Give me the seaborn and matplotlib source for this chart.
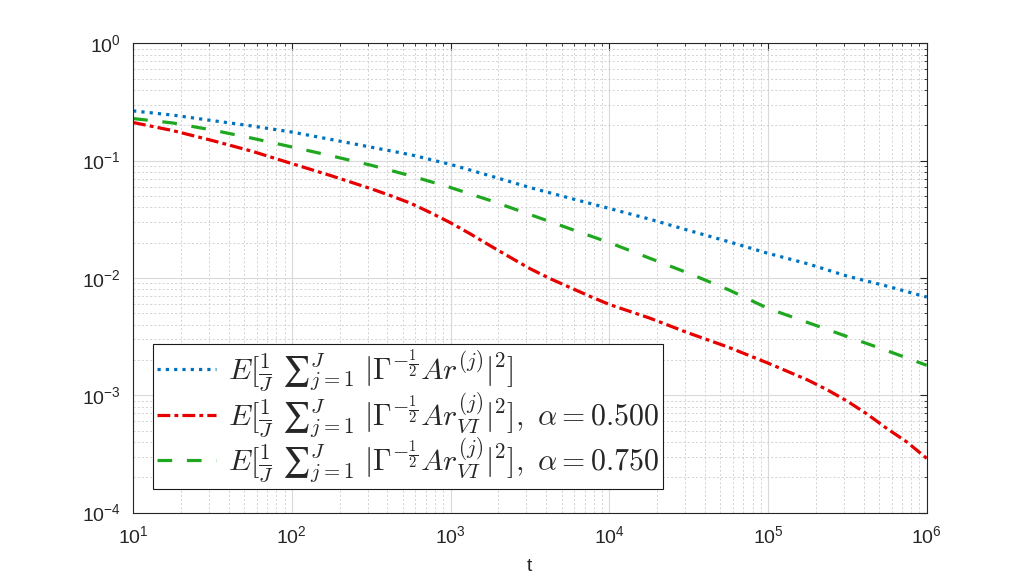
import numpy as np
import pandas as pd
import matplotlib
matplotlib.use("Agg")
import matplotlib.pyplot as plt
import matplotlib.ticker as mticker
import seaborn as sns

# ---- data ----
t_common = [1e1, 10**1.25, 10**1.5, 10**1.75, 1e2, 10**2.25, 10**2.5, 10**2.75,
            1e3, 10**3.25, 10**3.5, 10**3.75, 1e4, 10**4.25, 10**4.5, 10**4.75,
            1e5, 10**5.25, 10**5.5, 10**5.75, 1e6]
err_plain = [0.265, 0.244, 0.219, 0.197, 0.175, 0.151, 0.130, 0.112,
             0.0927, 0.0741, 0.0589, 0.0479, 0.0391, 0.0318, 0.0254, 0.0204,
             0.0162, 0.0132, 0.01035, 0.00851, 0.00687]
err_vi_075 = [0.228, 0.209, 0.182, 0.155, 0.1306, 0.1096, 0.0912, 0.0741,
              0.0589, 0.0457, 0.0347, 0.0263, 0.0200, 0.0148, 0.01096, 0.00794,
              0.0055, 0.00417, 0.00316, 0.0024, 0.0018]
t_vi_050 = [1e1, 10**1.25, 10**1.5, 10**1.75, 1e2, 10**2.25, 10**2.5, 10**2.625,
            10**2.75, 10**2.875, 1e3, 10**3.125, 10**3.25, 10**3.375, 10**3.5,
            10**3.625, 10**3.75, 10**3.875, 1e4, 10**4.25, 10**4.5, 10**4.75,
            1e5, 10**5.25, 10**5.375, 10**5.5, 10**5.625, 10**5.75, 10**5.875, 1e6]
err_vi_050 = [0.211, 0.180, 0.148, 0.120, 0.0942, 0.0741, 0.0575, 0.0501,
              0.0432, 0.0359, 0.0295, 0.0237, 0.0188, 0.0150, 0.0120,
              0.00989, 0.00832, 0.0070, 0.00594, 0.00457, 0.00339, 0.00257,
              0.00188, 0.00135, 0.00111, 0.00089, 0.00069, 0.00052, 0.00040, 0.00029]

labels = [
    r"$E[\frac{1}{J}\ ∑_{j=1}^{J}\ |\Gamma^{-\frac{1}{2}}Ar^{(j)}|^2]$",
    r"$E[\frac{1}{J}\ ∑_{j=1}^{J}\ |\Gamma^{-\frac{1}{2}}Ar_{VI}^{(j)}|^2],\ \alpha=0.500$",
    r"$E[\frac{1}{J}\ ∑_{j=1}^{J}\ |\Gamma^{-\frac{1}{2}}Ar_{VI}^{(j)}|^2],\ \alpha=0.750$",
]
x_ticks = [1e1, 1e2, 1e3, 1e4, 1e5, 1e6]
y_ticks = [1e-4, 1e-3, 1e-2, 1e-1, 1e0]

# ---- style ----
sns.set_style("white")
plt.rcParams["font.family"] = ["Liberation Sans", "DejaVu Sans"]
plt.rcParams["mathtext.fontset"] = "custom"
plt.rcParams["mathtext.rm"] = "Liberation Sans"
plt.rcParams["mathtext.it"] = "Liberation Sans:italic"
plt.rcParams["mathtext.bf"] = "Liberation Sans:bold"
plt.rcParams["axes.unicode_minus"] = False

fig = plt.figure(figsize=(10.24, 5.76), dpi=100)
ax = fig.add_axes([0.13, 0.11, 0.775, 0.815])

lw = 2.3
series = [
    (t_common, err_plain, "#0072BD", (0, (1.0, 1.6))),
    (t_vi_050, err_vi_050, "#E60000", (0, (4.0, 1.3, 1.2, 1.3))),
    (t_common, err_vi_075, "#1FA81F", (0, (4.6, 4.6))),
]
for (tv, vals, col, ls), lab in zip(series, labels):
    df = pd.DataFrame({"t": tv, "err": vals})
    sns.lineplot(data=df, x="t", y="err", color=col, linewidth=lw,
                 linestyle=ls, label=lab, ax=ax, sort=False)

ax.set_xscale("log")
ax.set_yscale("log")
ax.set_xlim(1e1, 1e6)
ax.set_ylim(1e-4, 1e0)
ax.set_xticks(x_ticks)
ax.set_yticks(y_ticks)
fmt = mticker.FuncFormatter(lambda v, p: r"$10^{%d}$" % int(round(np.log10(v))))
ax.xaxis.set_major_formatter(fmt)
ax.yaxis.set_major_formatter(fmt)
ax.xaxis.set_minor_locator(mticker.LogLocator(base=10, subs=np.arange(2, 10), numticks=20))
ax.yaxis.set_minor_locator(mticker.LogLocator(base=10, subs=np.arange(2, 10), numticks=20))
ax.xaxis.set_minor_formatter(mticker.NullFormatter())
ax.yaxis.set_minor_formatter(mticker.NullFormatter())

ax.grid(True, which="major", color="#d9d9d9", linewidth=0.8, linestyle="-")
ax.grid(True, which="minor", color="#cdcdcd", linewidth=0.6, linestyle=(0, (2.5, 2.5)))
ax.set_axisbelow(True)

ax.tick_params(which="both", direction="in", top=True, right=True, color="#262626")
ax.tick_params(which="major", length=5, width=0.8, labelsize=14, pad=9,
               labelcolor="#262626")
ax.tick_params(which="minor", length=2.5, width=0.6)
for s in ax.spines.values():
    s.set_color("#262626")
    s.set_linewidth(0.8)
    s.set_visible(True)

ax.set_xlabel("t", fontsize=14, color="#262626", labelpad=8)
ax.set_ylabel("")

leg = ax.legend(loc="lower left", bbox_to_anchor=(0.025, 0.051), borderaxespad=0,
                frameon=True, fancybox=False, framealpha=1, edgecolor="#1a1a1a",
                fontsize=21.5, handlelength=2.0, handletextpad=0.4,
                labelspacing=-0.12, borderpad=0.12)
leg.get_frame().set_linewidth(0.8)
for txt in leg.get_texts():
    txt.set_math_fontfamily("cm")

fig.savefig("out.png", dpi=100, facecolor="white")
